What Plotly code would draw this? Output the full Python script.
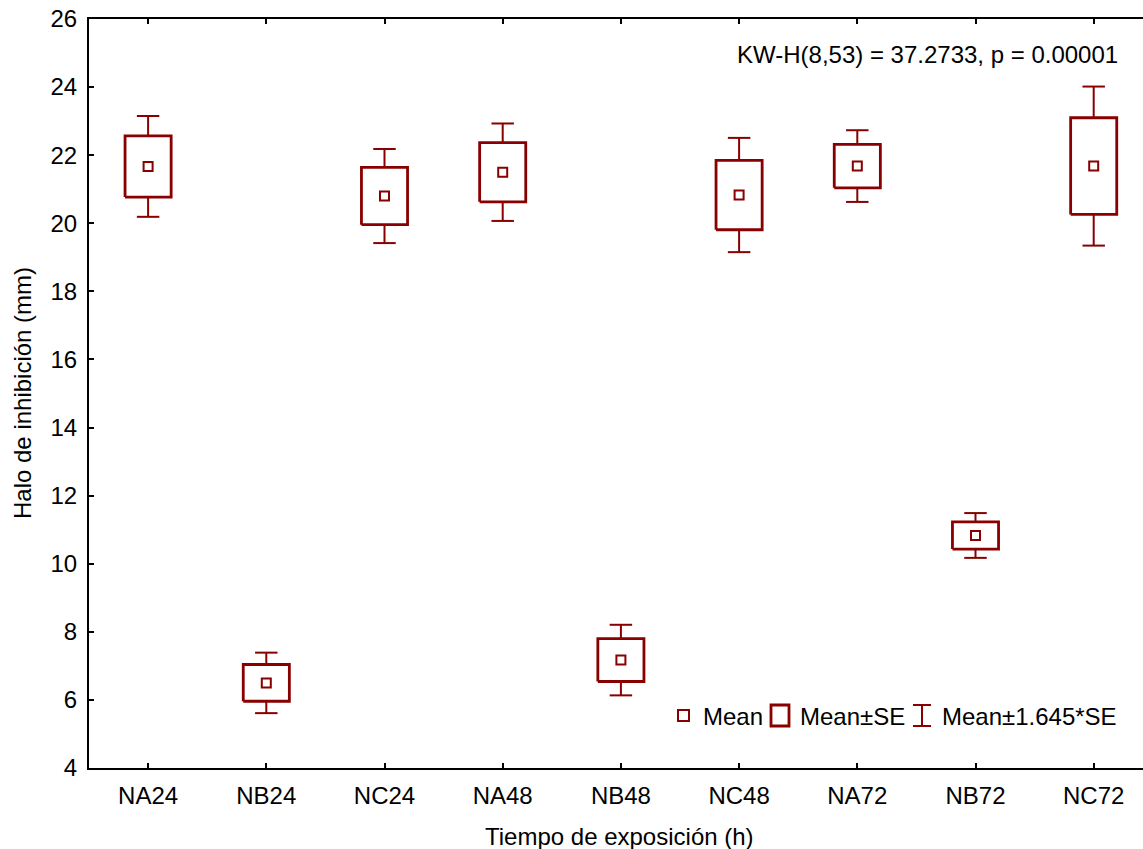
import plotly.graph_objects as go

# Inhibition halo per treatment / exposure time
groups = ["NA24", "NB24", "NC24", "NA48", "NB48", "NC48", "NA72", "NB72", "NC72"]
means = [21.67, 6.50, 20.80, 21.50, 7.17, 20.83, 21.68, 10.83, 21.68]
std_err = [0.90, 0.54, 0.84, 0.87, 0.63, 1.02, 0.64, 0.40, 1.42]
z_factor = 1.645
y_ticks = [4, 6, 8, 10, 12, 14, 16, 18, 20, 22, 24, 26]
stat_text = "KW-H(8,53) = 37.2733, p = 0.00001"

RED = "#880000"
FONT = "Liberation Sans, Arial, sans-serif"
FS = 24

# plot area in pixels
W_FIG, H_FIG = 1143, 849
M_L, M_T, M_B, M_R = 89, 19, 81, 0
PW = W_FIG - M_L - M_R
PH = H_FIG - M_T - M_B

BOX_HALF = 0.195
CAP_HALF = 0.095

xs = list(range(len(groups)))

box_x, box_y = [], []
wh_x, wh_y = [], []
for i, m, s in zip(xs, means, std_err):
    lo, hi = m - s, m + s
    wlo, whi = m - z_factor * s, m + z_factor * s
    box_x += [i - BOX_HALF, i + BOX_HALF, i + BOX_HALF, i - BOX_HALF, i - BOX_HALF, None]
    box_y += [lo, lo, hi, hi, lo, None]
    # stems
    wh_x += [i, i, None, i, i, None]
    wh_y += [hi, whi, None, lo, wlo, None]
    # caps
    wh_x += [i - CAP_HALF, i + CAP_HALF, None, i - CAP_HALF, i + CAP_HALF, None]
    wh_y += [whi, whi, None, wlo, wlo, None]

fig = go.Figure()
fig.add_trace(go.Scatter(x=wh_x, y=wh_y, mode="lines",
                         line=dict(color=RED, width=2), hoverinfo="skip"))
fig.add_trace(go.Scatter(x=box_x, y=box_y, mode="lines",
                         line=dict(color=RED, width=2.8), hoverinfo="skip"))
fig.add_trace(go.Scatter(x=xs, y=means, mode="markers",
                         marker=dict(symbol="square-open", size=9, color=RED,
                                     line=dict(color=RED, width=2))))


def px(x):
    return (x - M_L) / PW


def py(y):
    return (H_FIG - M_B - y) / PH


shapes = []
# legend icons
shapes.append(dict(type="rect", xref="paper", yref="paper",
                   x0=px(678), x1=px(689), y0=py(721), y1=py(710),
                   line=dict(color=RED, width=2)))
shapes.append(dict(type="rect", xref="paper", yref="paper",
                   x0=px(771), x1=px(789), y0=py(726), y1=py(705),
                   line=dict(color=RED, width=2.8)))
for seg in [((922, 705), (922, 726)), ((913, 705), (931, 705)), ((913, 726), (931, 726))]:
    shapes.append(dict(type="line", xref="paper", yref="paper",
                       x0=px(seg[0][0]), y0=py(seg[0][1]),
                       x1=px(seg[1][0]), y1=py(seg[1][1]),
                       line=dict(color=RED, width=2)))

annotations = []
for label, x0 in [("Mean", 701), ("Mean±SE", 798), ("Mean±1.645*SE", 940)]:
    annotations.append(dict(text=label, xref="paper", yref="paper",
                            x=px(x0), y=py(716), xanchor="left", yanchor="middle",
                            showarrow=False, font=dict(family=FONT, size=FS, color="black")))
annotations.append(dict(text=stat_text, xref="paper", yref="paper",
                        x=px(1120), y=py(54), xanchor="right", yanchor="middle",
                        showarrow=False, font=dict(family=FONT, size=FS, color="black")))
# axis titles
annotations.append(dict(text="Tiempo de exposición (h)", xref="paper", yref="paper",
                        x=px(619), y=py(836), xanchor="center", yanchor="middle",
                        showarrow=False, font=dict(family=FONT, size=FS, color="black")))
annotations.append(dict(text="Halo de inhibición (mm)", xref="paper", yref="paper",
                        x=px(22), y=py(393), xanchor="center", yanchor="middle",
                        textangle=-90, showarrow=False,
                        font=dict(family=FONT, size=FS, color="black")))

fig.update_layout(
    width=W_FIG, height=H_FIG,
    margin=dict(l=M_L, r=M_R, t=M_T, b=M_B, pad=0),
    plot_bgcolor="white", paper_bgcolor="white",
    showlegend=False,
    font=dict(family=FONT, size=FS, color="black"),
    shapes=shapes, annotations=annotations,
    xaxis=dict(range=[-0.5, -0.5 + PW / 118.2], tickmode="array", tickvals=xs,
               ticktext=groups, ticks="inside", ticklen=5, tickwidth=1.5,
               tickcolor="black", showline=True, linewidth=2, linecolor="black",
               mirror="ticks", showgrid=False, zeroline=False,
               ticklabelstandoff=5),
    yaxis=dict(range=[4, 26], tickmode="array", tickvals=y_ticks,
               ticks="inside", ticklen=5, tickwidth=1.5, tickcolor="black",
               showline=True, linewidth=2, linecolor="black",
               showgrid=False, zeroline=False,
               ticklabelstandoff=5),
)

fig.write_html("out.html")
